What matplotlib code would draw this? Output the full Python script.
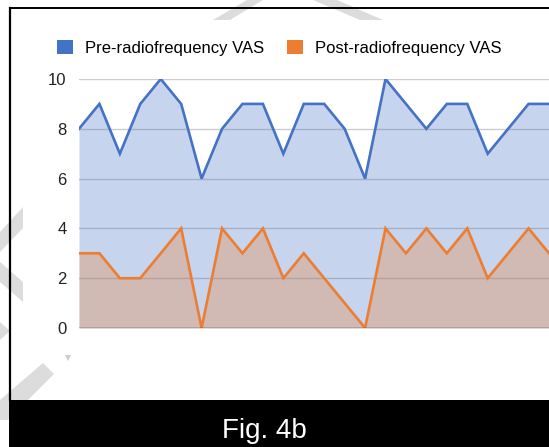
import matplotlib
matplotlib.use("Agg")
import matplotlib.pyplot as plt
from matplotlib.patches import Patch, Polygon, Rectangle
from matplotlib.lines import Line2D
import numpy as np

plt.rcParams['font.family'] = ['Liberation Sans', 'DejaVu Sans']

# VAS scores per patient
pre_vas = [8, 9, 7, 9, 10, 9, 6, 8, 9, 9, 7, 9, 9, 8, 6, 10, 9, 8, 9, 9, 7, 8, 9, 9]
post_vas = [3, 3, 2, 2, 3, 4, 0, 4, 3, 4, 2, 3, 2, 1, 0, 4, 3, 4, 3, 4, 2, 3, 4, 3]
series_names = ["Pre-radiofrequency VAS", "Post-radiofrequency VAS"]
y_ticks = [0, 2, 4, 6, 8, 10]
caption = "Fig. 4b"

BLUE = "#4472c4"
ORANGE = "#ed7d31"
W, H = 549, 447


def px(x, y):
    # pixel position (from top-left) -> figure fraction
    return (x / W, 1 - y / H)


fig = plt.figure(figsize=(W / 100, H / 100), dpi=100)

# light grey watermark stripes
wm = "#dcdcdc"
stripes = [
    [(213, 20), (230, 20), (263, 0), (247, 0)],
    [(313, 0), (337, 0), (383, 20), (360, 20)],
    [(0, 232), (23, 207), (23, 228), (0, 252)],
    [(0, 262), (23, 282), (23, 302), (0, 282)],
    [(0, 322), (10, 331), (0, 340)],
    [(43, 363), (54, 374), (8, 420), (0, 420), (0, 400)],
]
for s in stripes:
    fig.patches.append(Polygon([px(*p) for p in s], closed=True, transform=fig.transFigure,
                               facecolor=wm, edgecolor="none", zorder=0))

ax = fig.add_axes([79 / W, 1 - 328 / H, 1 - 79 / W, 249 / H])
ax.set_facecolor("none")
x = np.arange(len(pre_vas))

ax.fill_between(x, pre_vas, 0, color=BLUE, alpha=0.3, linewidth=0, zorder=2)
ax.fill_between(x, post_vas, 0, color=ORANGE, alpha=0.3, linewidth=0, zorder=2)
ax.plot(x, pre_vas, color=BLUE, lw=1.9, zorder=3, solid_joinstyle="miter")
ax.plot(x, post_vas, color=ORANGE, lw=1.9, zorder=3, solid_joinstyle="miter")

ax.set_xlim(0, len(pre_vas) - 1)
ax.set_ylim(0, 10)
ax.set_yticks(y_ticks)
ax.set_xticks([])
ax.tick_params(axis="y", length=0, pad=9, labelsize=12, labelcolor="#222222")
for v in y_ticks[1:]:
    ax.axhline(v, color="#cccccc", lw=1, zorder=1)
ax.axhline(0, color="#333333", lw=1, zorder=4)
for sp in ax.spines.values():
    sp.set_visible(False)

handles = [Patch(facecolor=BLUE, edgecolor="none"), Patch(facecolor=ORANGE, edgecolor="none")]
fig.legend(handles, series_names, loc="center left", bbox_to_anchor=px(57, 48), ncol=2,
           frameon=False, fontsize=12, handlelength=0.95, handleheight=0.95,
           handletextpad=0.75, columnspacing=1.35, borderpad=0, borderaxespad=0)

# frame and caption bar
fig.add_artist(Line2D([10 / W, 10 / W], [px(0, 7.5)[1], px(0, 400)[1]], color="black", lw=1.6,
                      transform=fig.transFigure))
fig.add_artist(Line2D([10 / W, 1], [px(0, 7.5)[1]] * 2, color="black", lw=1.4,
                      transform=fig.transFigure))
fig.patches.append(Rectangle(px(9, 447), 1, 47 / H, transform=fig.transFigure,
                             facecolor="black", edgecolor="none", zorder=5))
fig.text(*px(264, 431), caption, color="white", fontsize=20, ha="center", va="center", zorder=6)

# small grey marker under the axis
fig.add_artist(Line2D([68 / W], [px(0, 358)[1]], marker="v", markersize=5, color="#cccccc",
                      markeredgewidth=0, transform=fig.transFigure))

fig.savefig("out.png", dpi=100)
